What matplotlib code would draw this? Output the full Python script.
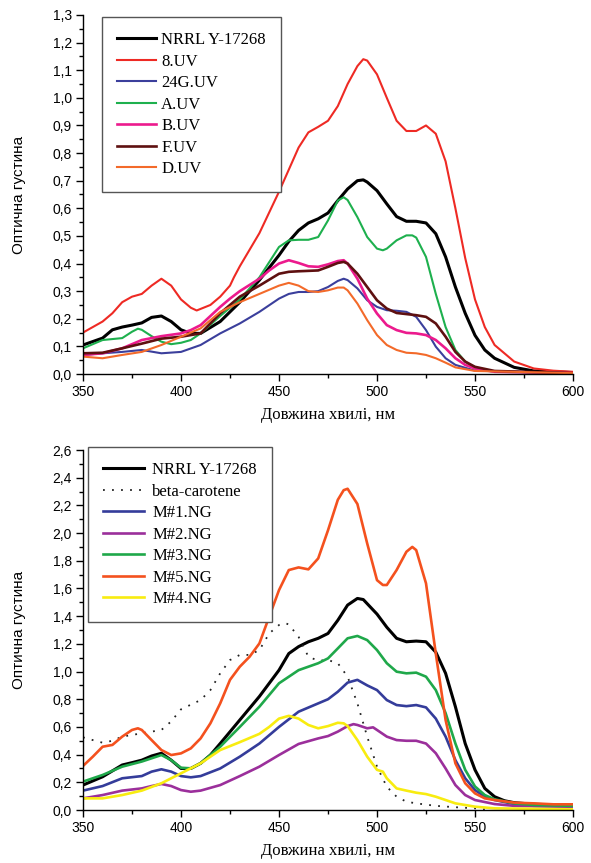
import matplotlib
matplotlib.use("Agg")
import matplotlib.pyplot as plt
from matplotlib.ticker import MultipleLocator, FuncFormatter

# ---------------- top panel data ----------------
wl_8uv = [350,360,365,370,375,380,385,390,395,400,405,408,415,420,425,427,430,440,450,460,465,470,475,480,485,490,493,495,500,505,510,515,520,525,530,535,540,545,550,555,560,570,580,590,600]
v_8uv  = [0.15,0.19,0.22,0.26,0.28,0.29,0.32,0.345,0.32,0.27,0.24,0.23,0.25,0.28,0.32,0.35,0.39,0.51,0.66,0.82,0.875,0.895,0.917,0.97,1.05,1.115,1.14,1.135,1.085,1.00,0.917,0.88,0.88,0.90,0.87,0.77,0.60,0.42,0.27,0.17,0.105,0.045,0.02,0.012,0.008]

wl_nrrl1 = [350,360,365,370,375,380,385,390,395,400,405,410,420,430,440,450,455,460,465,470,475,480,485,490,493,495,500,505,510,515,520,525,530,535,540,545,550,555,560,570,580,600]
v_nrrl1  = [0.105,0.13,0.16,0.17,0.177,0.185,0.205,0.21,0.19,0.16,0.147,0.147,0.19,0.26,0.34,0.43,0.48,0.52,0.547,0.562,0.583,0.628,0.67,0.70,0.703,0.695,0.664,0.616,0.57,0.553,0.553,0.547,0.508,0.424,0.315,0.22,0.14,0.087,0.057,0.024,0.011,0.005]

wl_a = [350,360,370,375,378,380,385,390,395,400,405,410,420,430,440,450,455,460,465,470,475,480,483,485,490,495,500,503,505,510,515,518,520,525,530,535,540,545,550,560,600]
v_a  = [0.093,0.123,0.13,0.153,0.164,0.16,0.137,0.117,0.108,0.113,0.123,0.147,0.21,0.27,0.35,0.46,0.484,0.486,0.486,0.496,0.556,0.628,0.64,0.63,0.568,0.496,0.454,0.448,0.454,0.484,0.502,0.502,0.494,0.424,0.29,0.17,0.087,0.045,0.02,0.008,0.003]

wl_24g = [350,360,370,380,390,400,410,420,430,440,450,455,460,465,470,475,480,483,485,490,495,500,505,510,515,520,525,530,535,540,550,600]
v_24g  = [0.069,0.075,0.08,0.087,0.075,0.08,0.105,0.147,0.183,0.225,0.273,0.29,0.297,0.297,0.30,0.315,0.337,0.345,0.34,0.31,0.267,0.243,0.231,0.229,0.225,0.207,0.159,0.099,0.057,0.033,0.012,0.003]

wl_b = [350,360,370,380,390,400,405,410,420,425,430,440,445,450,455,460,465,470,475,480,483,485,490,495,500,505,510,515,520,525,530,535,540,545,550,560,600]
v_b  = [0.069,0.075,0.093,0.123,0.137,0.147,0.159,0.177,0.243,0.273,0.30,0.345,0.375,0.40,0.412,0.402,0.39,0.388,0.397,0.409,0.412,0.40,0.345,0.273,0.219,0.177,0.159,0.149,0.147,0.141,0.123,0.093,0.057,0.033,0.02,0.008,0.003]

wl_f = [350,360,370,380,390,400,410,420,430,440,450,455,460,470,475,480,483,485,490,495,500,505,510,515,520,525,530,535,540,545,550,560,600]
v_f  = [0.075,0.077,0.093,0.11,0.128,0.135,0.147,0.22,0.28,0.32,0.363,0.37,0.372,0.375,0.388,0.402,0.406,0.40,0.363,0.315,0.267,0.237,0.221,0.217,0.213,0.207,0.183,0.135,0.08,0.045,0.026,0.011,0.003]

wl_d = [350,360,370,380,390,400,410,420,430,440,450,455,460,465,470,475,480,483,485,490,495,500,505,510,515,520,525,530,535,540,550,600]
v_d  = [0.063,0.057,0.069,0.08,0.105,0.135,0.165,0.225,0.26,0.29,0.32,0.33,0.32,0.30,0.297,0.303,0.313,0.313,0.303,0.255,0.195,0.141,0.105,0.087,0.077,0.075,0.069,0.057,0.041,0.024,0.011,0.003]

# ---------------- bottom panel data ----------------
wl_m5 = [350,355,360,365,370,375,378,380,385,390,395,400,405,410,415,420,425,430,435,440,445,450,455,460,465,470,475,480,483,485,490,495,500,503,505,510,515,518,520,525,530,535,540,545,550,555,560,570,580,590,600]
v_m5  = [0.318,0.385,0.457,0.47,0.53,0.578,0.59,0.578,0.505,0.433,0.397,0.409,0.445,0.517,0.626,0.77,0.94,1.035,1.107,1.203,1.396,1.588,1.733,1.752,1.738,1.817,2.02,2.24,2.31,2.32,2.21,1.925,1.66,1.625,1.625,1.733,1.865,1.90,1.877,1.637,1.13,0.65,0.337,0.193,0.12,0.084,0.072,0.053,0.048,0.041,0.041]

wl_nrrl2 = [350,360,370,375,380,385,390,395,400,405,410,415,420,430,440,450,455,460,465,470,475,480,485,490,493,495,500,505,510,515,520,525,530,535,540,545,550,555,560,565,570,580,600]
v_nrrl2  = [0.18,0.24,0.325,0.342,0.36,0.39,0.41,0.36,0.30,0.30,0.337,0.397,0.48,0.65,0.82,1.01,1.13,1.18,1.215,1.24,1.275,1.37,1.48,1.528,1.52,1.49,1.415,1.32,1.24,1.215,1.22,1.215,1.14,0.987,0.746,0.48,0.29,0.156,0.096,0.067,0.053,0.041,0.034]

wl_m3 = [350,360,370,380,390,395,400,405,410,420,430,440,450,460,470,475,480,485,490,495,500,505,510,515,520,525,530,535,540,545,550,555,560,570,580,600]
v_m3  = [0.205,0.253,0.313,0.35,0.397,0.36,0.305,0.30,0.337,0.457,0.60,0.746,0.915,1.01,1.06,1.095,1.167,1.24,1.257,1.227,1.155,1.06,0.999,0.987,0.992,0.963,0.866,0.70,0.48,0.29,0.17,0.108,0.077,0.048,0.036,0.03]

wl_m1 = [350,360,370,380,385,390,395,400,405,410,420,430,440,450,460,470,475,480,485,490,495,500,505,510,515,520,525,530,535,540,545,550,555,560,570,580,600]
v_m1  = [0.14,0.173,0.229,0.245,0.277,0.294,0.277,0.245,0.236,0.245,0.30,0.385,0.48,0.60,0.71,0.77,0.80,0.854,0.92,0.94,0.90,0.866,0.794,0.758,0.75,0.758,0.741,0.66,0.53,0.36,0.229,0.144,0.096,0.072,0.043,0.03,0.024]

wl_m2 = [350,360,370,380,385,390,395,400,405,410,420,430,440,450,460,470,475,480,485,488,490,495,498,500,505,510,515,520,525,530,535,540,545,550,560,570,600]
v_m2  = [0.084,0.108,0.14,0.156,0.173,0.188,0.173,0.144,0.132,0.14,0.18,0.245,0.313,0.397,0.477,0.517,0.534,0.566,0.606,0.62,0.614,0.59,0.597,0.578,0.53,0.505,0.50,0.50,0.48,0.41,0.30,0.18,0.108,0.072,0.043,0.03,0.024]

wl_m4 = [350,360,370,380,390,400,410,420,430,440,445,450,455,460,465,470,475,480,483,485,490,495,500,503,505,510,515,520,525,530,535,540,550,560,600]
v_m4  = [0.084,0.084,0.108,0.14,0.193,0.265,0.337,0.433,0.49,0.55,0.60,0.66,0.68,0.66,0.614,0.59,0.606,0.63,0.626,0.606,0.505,0.385,0.29,0.277,0.229,0.156,0.14,0.125,0.115,0.096,0.072,0.048,0.024,0.012,0.005]

wl_beta = [350,355,360,365,370,380,390,395,400,410,415,420,425,430,435,440,445,450,453,455,460,465,470,475,480,485,490,495,500,505,510,515,520,530,540,550,555]
v_beta  = [0.525,0.505,0.486,0.50,0.53,0.554,0.578,0.64,0.727,0.794,0.866,0.987,1.083,1.12,1.12,1.155,1.275,1.336,1.35,1.34,1.25,1.107,1.078,1.083,1.06,0.963,0.77,0.53,0.313,0.168,0.096,0.06,0.048,0.03,0.02,0.012,0.005]

top_labels = ["NRRL Y-17268", "8.UV", "24G.UV", "A.UV", "B.UV", "F.UV", "D.UV"]
bot_labels = ["NRRL Y-17268", "beta-carotene", "M#1.NG", "M#2.NG", "M#3.NG", "M#5.NG", "M#4.NG"]
x_ticks = [350, 400, 450, 500, 550, 600]
xlabel_text = "Довжина хвилі, нм"
ylabel_text = "Оптична густина"

fig = plt.figure(figsize=(5.91, 8.63), dpi=100)
ax1 = fig.add_axes([83/591, 1-374/863, 490/591, 359/863])
ax2 = fig.add_axes([83/591, 1-810/863, 490/591, 360/863])

tick_font = "Liberation Sans"
serif = "Liberation Serif"

def comma(v, pos):
    return f"{v:.1f}".replace(".", ",")

# top panel
ax1.plot(wl_nrrl1, v_nrrl1, color="black", lw=2.2, label=top_labels[0])
ax1.plot(wl_8uv, v_8uv, color="#EE2A24", lw=1.5, label=top_labels[1])
ax1.plot(wl_24g, v_24g, color="#3B3F9C", lw=1.5, label=top_labels[2])
ax1.plot(wl_a, v_a, color="#1EB04E", lw=1.5, label=top_labels[3])
ax1.plot(wl_b, v_b, color="#EC1A8D", lw=1.9, label=top_labels[4])
ax1.plot(wl_f, v_f, color="#5E1010", lw=1.9, label=top_labels[5])
ax1.plot(wl_d, v_d, color="#F36A2A", lw=1.5, label=top_labels[6])

# bottom panel
ax2.plot(wl_nrrl2, v_nrrl2, color="black", lw=2.2, label=bot_labels[0])
ax2.plot(wl_beta, v_beta, color="#222222", lw=1.3, ls=(0, (1, 4)), label=bot_labels[1])
ax2.plot(wl_m1, v_m1, color="#343C9A", lw=1.9, label=bot_labels[2])
ax2.plot(wl_m2, v_m2, color="#9B2F9B", lw=1.9, label=bot_labels[3])
ax2.plot(wl_m3, v_m3, color="#1FA84A", lw=1.9, label=bot_labels[4])
ax2.plot(wl_m5, v_m5, color="#F4511E", lw=1.9, label=bot_labels[5])
ax2.plot(wl_m4, v_m4, color="#F8EC10", lw=1.9, label=bot_labels[6])

for ax, ymax, ymaj in [(ax1, 1.3, 0.1), (ax2, 2.6, 0.2)]:
    ax.set_xlim(350, 600)
    ax.set_ylim(0, ymax)
    ax.set_xticks(x_ticks)
    ax.xaxis.set_minor_locator(MultipleLocator(25))
    ax.yaxis.set_major_locator(MultipleLocator(ymaj))
    ax.yaxis.set_minor_locator(MultipleLocator(ymaj / 2))
    ax.yaxis.set_major_formatter(FuncFormatter(comma))
    for s in ["top", "right"]:
        ax.spines[s].set_visible(False)
    for s in ["left", "bottom"]:
        ax.spines[s].set_linewidth(1.0)
    ax.tick_params(which="major", direction="out", length=5, width=1.0, pad=3, labelsize=10)
    ax.tick_params(which="minor", direction="out", length=3, width=1.0)
    for lab in ax.get_xticklabels() + ax.get_yticklabels():
        lab.set_fontfamily(tick_font)
    ax.set_xlabel(xlabel_text, fontfamily=serif, fontsize=12, labelpad=6)
    ax.set_ylabel(ylabel_text, fontfamily=tick_font, fontsize=11)
    ax.yaxis.set_label_coords(-0.117, 0.5)

leg1 = ax1.legend(loc="upper left", bbox_to_anchor=(0.039, 0.994), prop={"family": serif, "size": 12},
                  handlelength=2.35, handletextpad=0.3, labelspacing=0.33, borderpad=0.9,
                  fancybox=False, framealpha=1, edgecolor="#555555", borderaxespad=0)
leg1.get_frame().set_linewidth(1.0)
leg2 = ax2.legend(loc="upper left", bbox_to_anchor=(0.010, 1.008), prop={"family": serif, "size": 12},
                  handlelength=2.45, handletextpad=0.5, labelspacing=0.33, borderpad=0.9,
                  fancybox=False, framealpha=1, edgecolor="#555555", borderaxespad=0)
leg2.get_frame().set_linewidth(1.0)

fig.savefig("out.png", dpi=100)
